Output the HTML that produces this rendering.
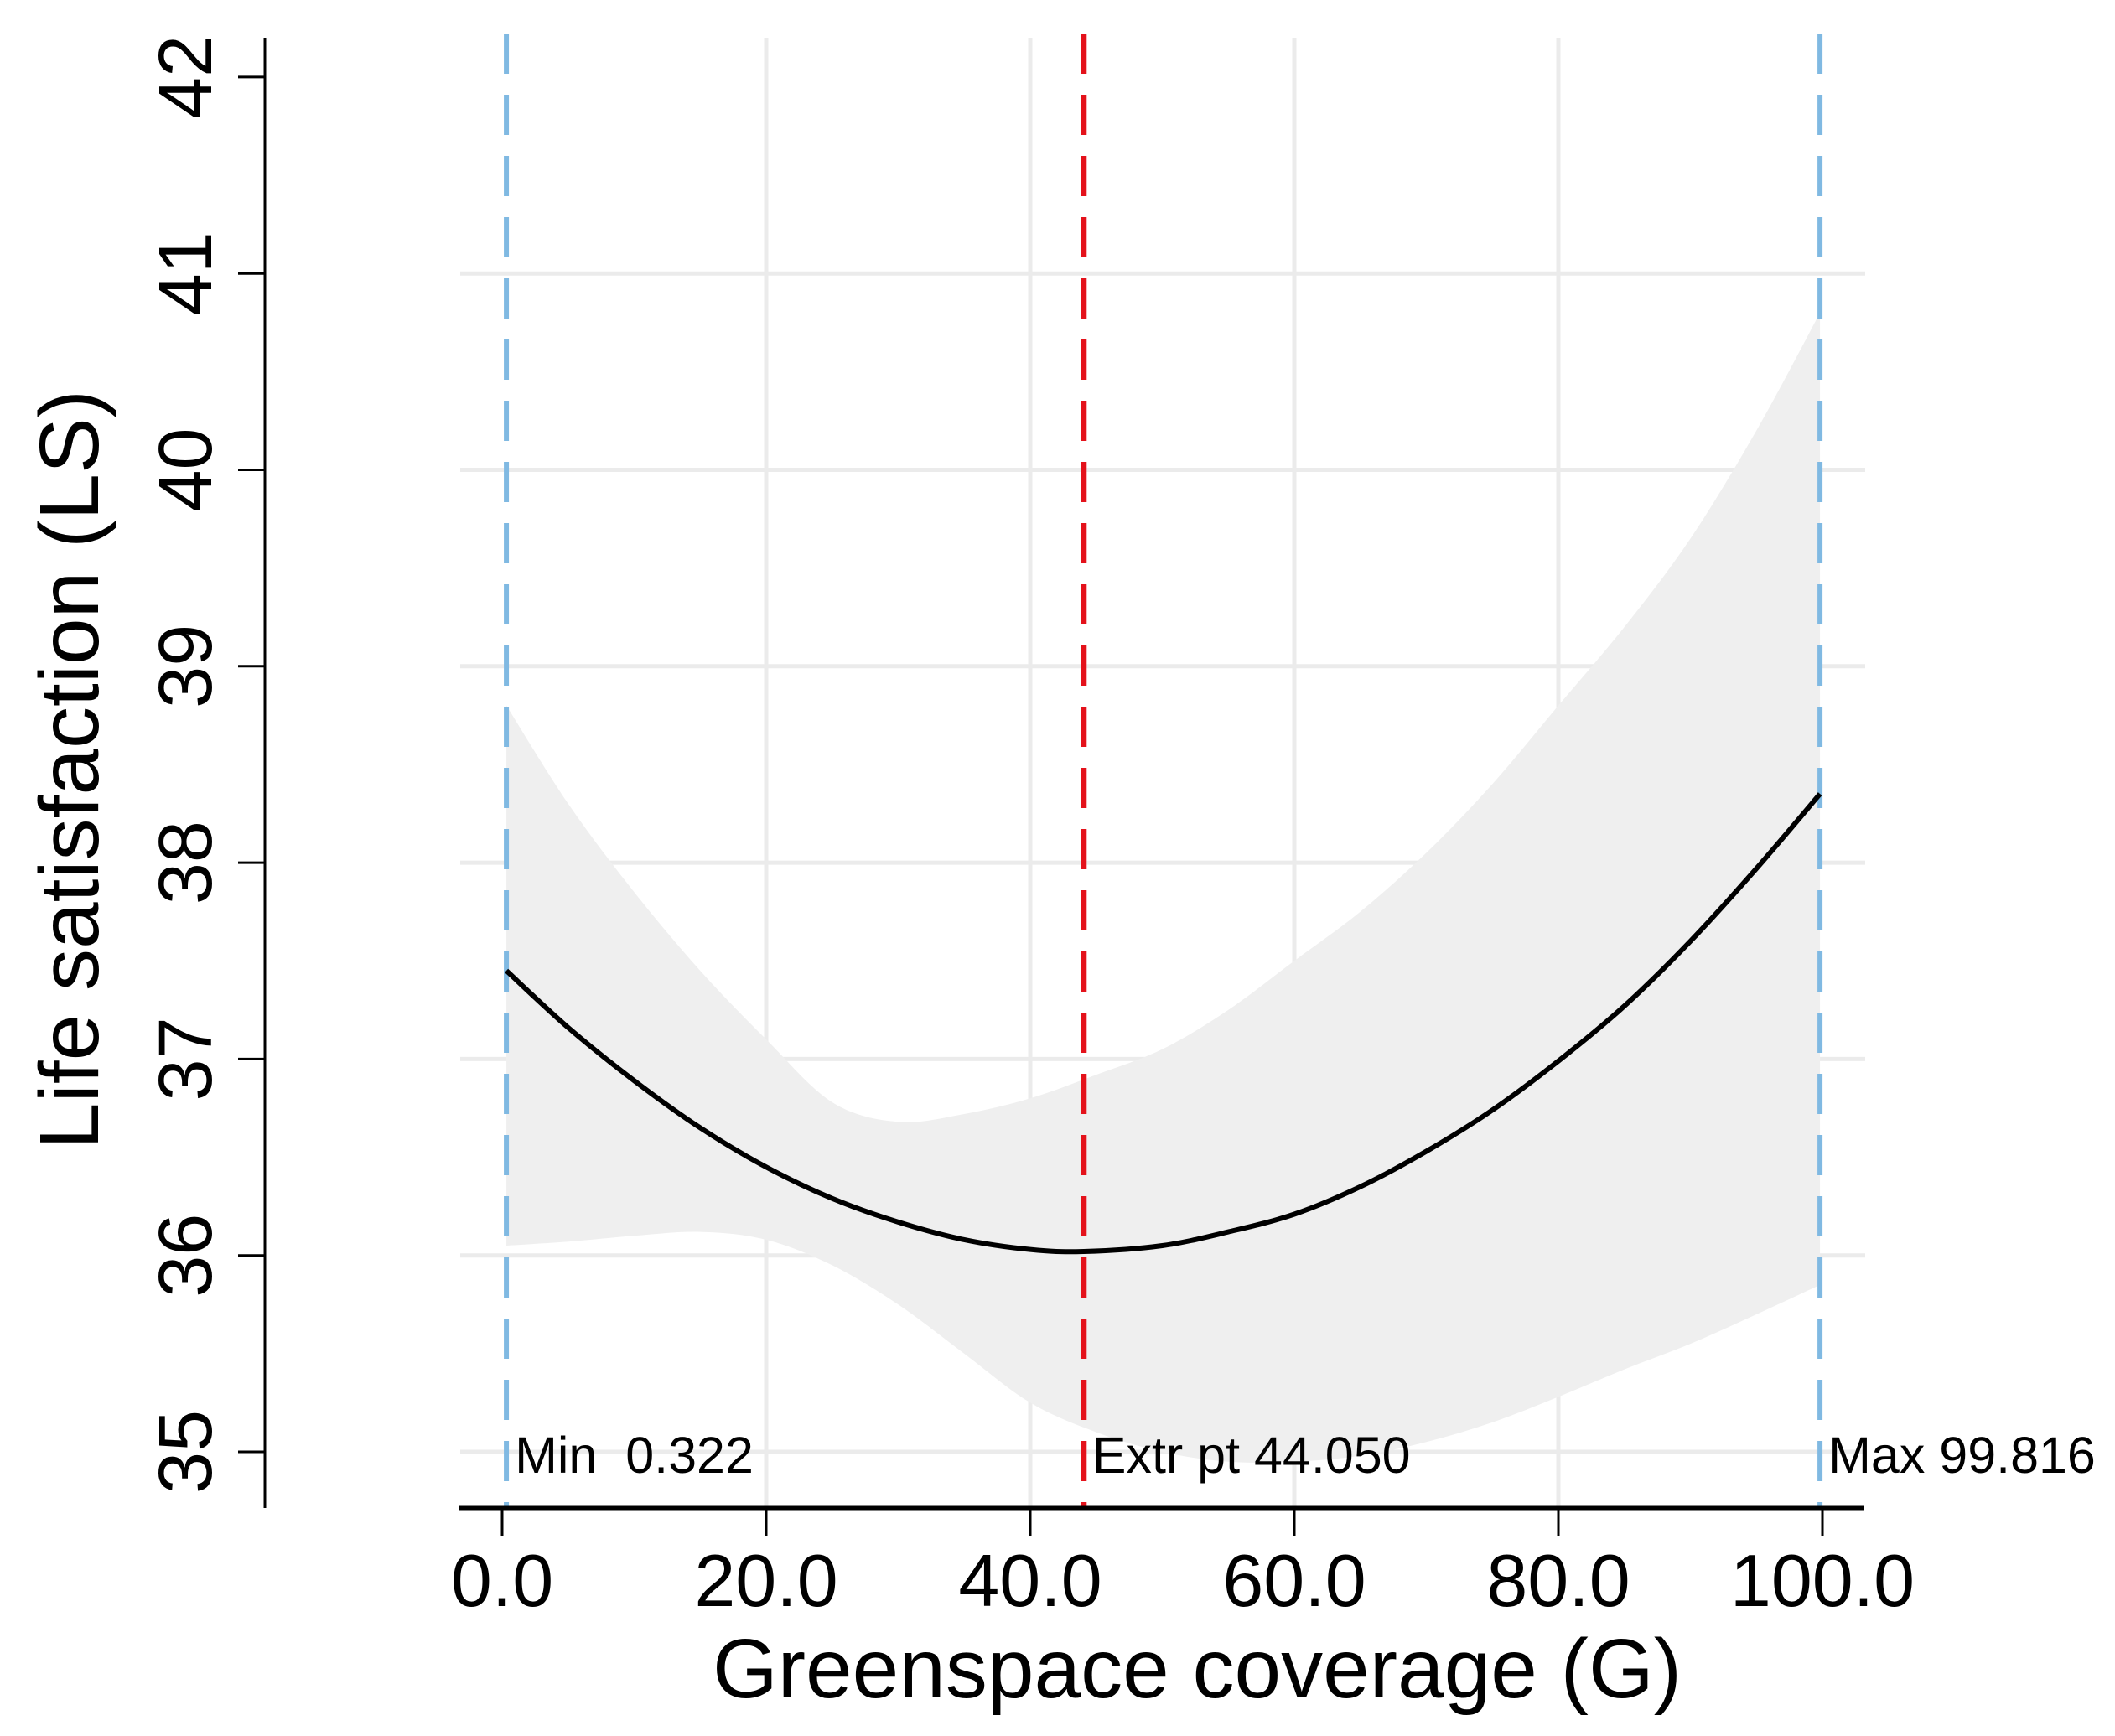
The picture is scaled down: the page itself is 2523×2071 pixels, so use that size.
<!DOCTYPE html>
<html><head><meta charset="utf-8"><style>
html,body{margin:0;padding:0;background:#fff}
svg{display:block}
text{font-family:"Liberation Sans",Arial,sans-serif;fill:#000}
</style></head><body>
<svg id="chart" width="2523" height="2071" viewBox="0 0 2523 2071" xmlns="http://www.w3.org/2000/svg">
<g id="grid"></g>
<g id="band"></g>
<g id="refs"></g>
<g id="line"></g>
<g id="axes"></g>
<text x="1428" y="2025" font-size="100" text-anchor="middle">Greenspace coverage (G)</text>
<text transform="translate(117,918) rotate(-90)" font-size="100" text-anchor="middle">Life satisfaction (LS)</text>
</svg>
<script>
const xTicks=[0,20,40,60,80,100];
const xTickLabels=["0.0","20.0","40.0","60.0","80.0","100.0"];
const yTicks=[35,36,37,38,39,40,41,42];
const yGrid=[35,36,37,38,39,40,41];
const fitX=[0.322,5,10,15,20,25,30,35,40,44.05,50,55,60,65,70,75,80,85,90,95,99.816];
const fitY=[37.45,37.16,36.89,36.65,36.45,36.29,36.17,36.08,36.03,36.02,36.05,36.12,36.21,36.35,36.53,36.74,36.99,37.27,37.60,37.97,38.35];
const bandX=[0.322,5,10,15,20,25,30,35,40,45,50,55,60,65,70,75,80,85,90,95,99.816];
const bandUpper=[38.8,38.3,37.85,37.45,37.1,36.78,36.68,36.72,36.8,36.92,37.05,37.25,37.5,37.75,38.05,38.4,38.8,39.2,39.65,40.2,40.8];
const bandLower=[36.05,36.07,36.1,36.12,36.08,35.95,35.75,35.5,35.25,35.1,35.0,34.95,34.95,34.98,35.05,35.15,35.28,35.42,35.55,35.7,35.85];
const refX=[0.322,44.05,99.816];
const refLabels=["Min\u00a0\u00a00.322","Extr pt 44.050","Max 99.816"];
const refColors=["#80b9e2","#e4121b","#80b9e2"];

const NS="http://www.w3.org/2000/svg";
const X=v=>599+v*15.75;
const Y=v=>1732-(v-35)*234.3;
function mk(tag,attrs,parent){const e=document.createElementNS(NS,tag);for(const k in attrs)e.setAttribute(k,attrs[k]);parent.appendChild(e);return e;}
function smooth(pts,start){let d=start?('M'+pts[0][0]+','+pts[0][1]):('L'+pts[0][0]+','+pts[0][1]);
for(let i=0;i<pts.length-1;i++){const p0=pts[i-1]||pts[i],p1=pts[i],p2=pts[i+1],p3=pts[i+2]||p2;
d+='C'+(p1[0]+(p2[0]-p0[0])/6)+','+(p1[1]+(p2[1]-p0[1])/6)+' '+(p2[0]-(p3[0]-p1[0])/6)+','+(p2[1]-(p3[1]-p1[1])/6)+' '+p2[0]+','+p2[1];}
return d;}
const grid=document.getElementById('grid'),band=document.getElementById('band'),refs=document.getElementById('refs'),line=document.getElementById('line'),axes=document.getElementById('axes');

yGrid.forEach(v=>{const l=mk('line',{x1:549,x2:2225,y1:Y(v),y2:Y(v),stroke:'#ebebeb','stroke-width':5},grid);

});
xTicks.slice(1,5).forEach(v=>{const l=mk('line',{x1:X(v),x2:X(v),y1:45,y2:1799,stroke:'#ebebeb','stroke-width':5},grid);

});

const up=bandX.map((x,i)=>[X(x),Y(bandUpper[i])]);
const lo=bandX.map((x,i)=>[X(x),Y(bandLower[i])]).reverse();
const bp=mk('path',{d:smooth(up,true)+smooth(lo,false)+'Z',fill:'#efefef'},band);



refX.forEach((x,i)=>{const l=mk('line',{x1:X(x),x2:X(x),y1:40,y2:1799,stroke:refColors[i],'stroke-width':i==1?7:6,'stroke-dasharray':'48,25'},refs);


const t=mk('text',{x:X(x)+10,y:1757,'font-size':61},refs);t.textContent=refLabels[i];

});

const cp=mk('path',{d:smooth(fitX.map((x,i)=>[X(x),Y(fitY[i])]),true),fill:'none',stroke:'#000','stroke-width':6,'stroke-linejoin':'round'},line);



const xa=mk('line',{x1:548,x2:2224,y1:1799,y2:1799,stroke:'#000','stroke-width':5},axes);


const ya=mk('line',{x1:316,x2:316,y1:45,y2:1799,stroke:'#000','stroke-width':3},axes);


xTicks.forEach((v,i)=>{const l=mk('line',{x1:X(v),x2:X(v),y1:1799,y2:1833,stroke:'#000','stroke-width':3},axes);


const t=mk('text',{x:X(v),y:1916,'font-size':88,'text-anchor':'middle'},axes);t.textContent=xTickLabels[i];

});
yTicks.forEach(v=>{const l=mk('line',{x1:284,x2:316,y1:Y(v),y2:Y(v),stroke:'#000','stroke-width':3},axes);


const t=mk('text',{transform:'translate(252,'+Y(v)+') rotate(-90)','font-size':90,'text-anchor':'middle'},axes);t.textContent=String(v);

});
</script>
</body></html>
